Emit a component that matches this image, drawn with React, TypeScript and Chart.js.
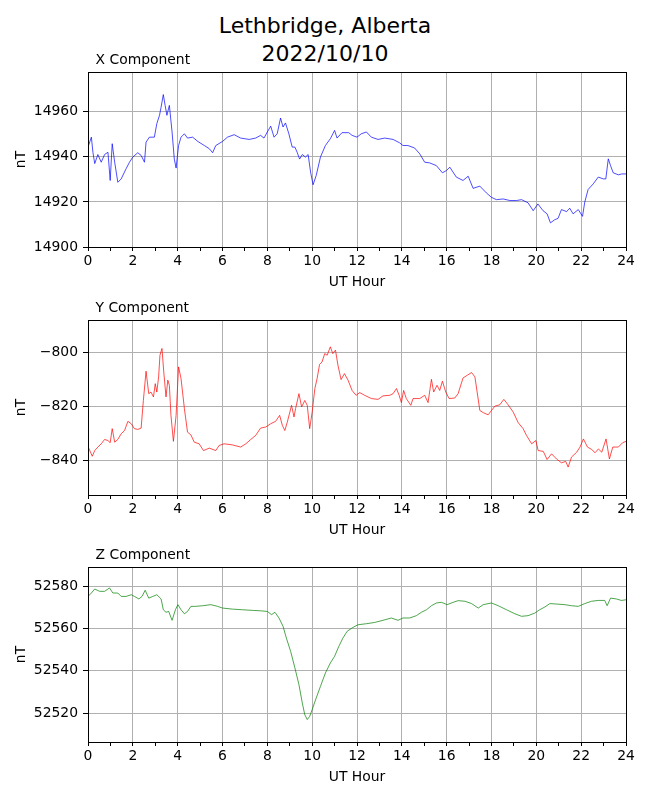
import { useEffect, useRef } from "react";
import { Chart, registerables, type Plugin } from "chart.js";

Chart.register(...registerables);

const FONT = "'DejaVu Sans', sans-serif";
const FONT_SIZE = 13.9;

// hour axis: a tick every hour, a label and grid line every 2 hours
const hourTicks = [
  0, 1, 2, 3, 4, 5, 6, 7, 8, 9, 10, 11, 12, 13, 14, 15, 16, 17, 18, 19, 20, 21,
  22, 23, 24,
];

const xHours = [
  0, 0.15, 0.22, 0.3, 0.44, 0.59, 0.74, 0.89, 0.99, 1.08, 1.19, 1.33, 1.48, 1.7,
  1.85, 2.0, 2.22, 2.37, 2.52, 2.59, 2.74, 2.96, 3.07, 3.19, 3.26, 3.36, 3.44,
  3.52, 3.63, 3.75, 3.85, 3.93, 4.04, 4.15, 4.3, 4.44, 4.67, 4.9, 5.19, 5.41,
  5.56, 5.7, 6.0, 6.22, 6.52, 6.81, 7.19, 7.48, 7.7, 7.85, 8.0, 8.15, 8.3, 8.44,
  8.59, 8.7, 8.81, 8.96, 9.11, 9.23, 9.33, 9.44, 9.56, 9.7, 9.82, 9.93, 10.04,
  10.18, 10.37, 10.59, 10.81, 11.0, 11.11, 11.33, 11.63, 11.78, 12.0, 12.19,
  12.42, 12.64, 12.94, 13.24, 13.61, 13.9, 14.05, 14.27, 14.57, 14.8, 15.02,
  15.24, 15.54, 15.81, 15.99, 16.14, 16.43, 16.73, 16.96, 17.18, 17.48, 17.77,
  18.0, 18.22, 18.52, 18.82, 19.11, 19.34, 19.63, 19.86, 20.07, 20.3, 20.48,
  20.63, 20.82, 20.97, 21.12, 21.35, 21.49, 21.64, 21.87, 22.06, 22.16, 22.31,
  22.54, 22.76, 22.99, 23.1, 23.21, 23.31, 23.43, 23.66, 23.81, 24.0,
];
const xValues = [
  14944.3, 14948.7, 14942, 14937, 14941, 14937.6, 14941, 14942, 14929.5,
  14945.8, 14937.6, 14928.7, 14930.2, 14934.7, 14937.6, 14939.9, 14941.8,
  14940.6, 14937.6, 14946.5, 14948.7, 14948.7, 14954.7, 14958.4, 14962,
  14967.6, 14962.8, 14958.4, 14962.8, 14951, 14939, 14935, 14945, 14948.7,
  14950.2, 14948.3, 14948.7, 14946.8, 14945, 14943.6, 14941.8, 14945, 14946.8,
  14948.7, 14949.8, 14948.3, 14947.7, 14948.3, 14949.5, 14948.3, 14951,
  14953.6, 14948.7, 14950.2, 14957.2, 14953.2, 14955, 14950.2, 14944.3,
  14944.3, 14942, 14939, 14941, 14939.9, 14941, 14933.2, 14927.6, 14931.7,
  14939.9, 14945, 14948, 14951.7, 14948.3, 14950.7, 14950.7, 14949.5, 14948.7,
  14950.2, 14951, 14948.7, 14947.7, 14948.3, 14947.7, 14946.2, 14945, 14945,
  14943.9, 14941.3, 14937.6, 14937.3, 14936.1, 14932.9, 14933.9, 14935.4,
  14931, 14929.5, 14931.4, 14926, 14927, 14924, 14922, 14921, 14921.3, 14920.6,
  14920.6, 14921, 14919.6, 14916.1, 14919.1, 14916.1, 14914.7, 14910.7,
  14912.1, 14912.7, 14916.6, 14915.7, 14917.2, 14914.7, 14916.6, 14913.6,
  14919.9, 14925.5, 14928, 14931, 14930.2, 14930.2, 14939.1, 14936.1, 14932.9,
  14932, 14932.4, 14932.4,
];

const yHours = [
  0, 0.19, 0.3, 0.44, 0.59, 0.74, 0.89, 0.99, 1.08, 1.19, 1.33, 1.48, 1.63,
  1.78, 1.93, 2.07, 2.22, 2.37, 2.47, 2.59, 2.71, 2.81, 2.92, 3.0, 3.07, 3.15,
  3.21, 3.3, 3.38, 3.48, 3.56, 3.63, 3.7, 3.81, 3.93, 4.04, 4.15, 4.3, 4.44,
  4.59, 4.74, 4.96, 5.15, 5.41, 5.7, 5.85, 6.07, 6.44, 6.81, 7.04, 7.26, 7.48,
  7.7, 7.93, 8.15, 8.37, 8.55, 8.67, 8.78, 8.89, 9.08, 9.19, 9.26, 9.41, 9.53,
  9.67, 9.78, 9.89, 10.0, 10.12, 10.22, 10.33, 10.44, 10.56, 10.67, 10.81,
  10.92, 11.04, 11.15, 11.29, 11.44, 11.6, 11.78, 11.96, 12.12, 12.34, 12.64,
  12.94, 13.16, 13.46, 13.61, 13.76, 13.88, 13.98, 14.08, 14.2, 14.4, 14.5,
  14.8, 15.02, 15.17, 15.32, 15.42, 15.57, 15.69, 15.81, 15.96, 16.11, 16.36,
  16.51, 16.73, 16.92, 17.11, 17.26, 17.36, 17.48, 17.63, 17.85, 18.0, 18.15,
  18.37, 18.55, 18.74, 18.97, 19.19, 19.41, 19.56, 19.79, 19.98, 20.08, 20.31,
  20.48, 20.68, 20.9, 21.12, 21.31, 21.42, 21.57, 21.8, 21.95, 22.1, 22.28,
  22.47, 22.62, 22.77, 22.92, 23.11, 23.26, 23.41, 23.66, 23.85, 24.0,
];
const yValues = [
  -834.7, -838.3, -836.2, -834.9, -833.7, -832.1, -832.5, -833.3, -828.1,
  -833.1, -832.1, -830, -828.8, -825.4, -826.3, -828.1, -828.4, -827.9, -817.7,
  -806.9, -815.2, -814.6, -816.4, -811.5, -814.6, -809, -801, -798.5, -807.2,
  -816.4, -810.2, -812.1, -823.2, -832.8, -823.2, -805.3, -809.6, -820.7,
  -829.4, -830.4, -833.1, -833.7, -836.2, -835.3, -836.2, -834.3, -833.7,
  -834.1, -834.9, -833.7, -832.1, -830.6, -827.9, -827.5, -826.3, -825.4,
  -823.2, -826.9, -828.8, -825.7, -819.5, -823.8, -820.7, -815.2, -820.1,
  -817.7, -819.5, -828.1, -822, -813.3, -809.6, -804.4, -803.5, -800.4, -801,
  -797.9, -800.4, -799.1, -804.7, -810, -807.8, -810.2, -814, -815.8, -814.8,
  -815.8, -817, -817.3, -816, -815.8, -815.2, -813.3, -815.8, -818.5, -814,
  -817, -819.5, -817, -817, -815.8, -818.5, -809.9, -814.6, -812.1, -814,
  -810.6, -814.6, -817, -816.8, -815.2, -809.4, -808.4, -807.4, -809, -814.6,
  -821.4, -822.2, -823, -821.4, -819.8, -819.3, -817.3, -819.3, -822, -825.9,
  -828.1, -830.6, -833.7, -832.5, -836.2, -836.5, -839.5, -837.4, -839.3,
  -840.7, -840.2, -842.3, -838.6, -836.8, -834.9, -831.9, -834.9, -835.8, -837,
  -835.6, -836.8, -831.9, -839.3, -834.9, -834.9, -833.3, -832.8,
];

const zHours = [
  0, 0.15, 0.3, 0.52, 0.74, 0.96, 1.11, 1.33, 1.48, 1.7, 1.93, 2.07, 2.27, 2.41,
  2.55, 2.71, 2.89, 3.07, 3.26, 3.36, 3.48, 3.6, 3.75, 3.9, 4.01, 4.15, 4.3,
  4.44, 4.59, 4.81, 5.11, 5.48, 5.78, 6.0, 6.44, 6.89, 7.33, 7.7, 8.0, 8.19,
  8.34, 8.52, 8.7, 8.85, 9.04, 9.23, 9.41, 9.56, 9.67, 9.78, 9.89, 10.0, 10.18,
  10.37, 10.59, 10.81, 11.0, 11.19, 11.37, 11.56, 11.78, 12.04, 12.42, 12.79,
  13.16, 13.53, 13.83, 14.05, 14.35, 14.65, 14.87, 15.1, 15.32, 15.54, 15.77,
  16.02, 16.29, 16.51, 16.82, 17.11, 17.41, 17.63, 18.0, 18.3, 18.67, 19.04,
  19.34, 19.63, 19.93, 20.15, 20.38, 20.6, 20.9, 21.27, 21.57, 21.87, 22.16,
  22.46, 22.76, 23.05, 23.16, 23.31, 23.57, 23.79, 24.0,
];
const zValues = [
  52575.1, 52576.7, 52578.6, 52577.5, 52577.5, 52579.1, 52576.7, 52576.7,
  52575.1, 52575.1, 52575.9, 52575.1, 52573.9, 52575.1, 52578, 52574.3,
  52575.1, 52575.9, 52573.9, 52568.8, 52567.6, 52568, 52563.8, 52568.8,
  52571.2, 52568.8, 52566.9, 52568, 52570.4, 52570.4, 52570.7, 52571.2,
  52570.4, 52569.6, 52569.1, 52568.8, 52568.5, 52568.3, 52568, 52566.5,
  52567.6, 52564.9, 52561, 52555.4, 52549.1, 52541.3, 52533.4, 52524.7,
  52519.2, 52516.9, 52518.4, 52521.6, 52527.1, 52532.6, 52538.9, 52543.6,
  52546.8, 52551.5, 52555.4, 52558.6, 52560.2, 52561.7, 52562.2, 52562.8,
  52563.8, 52564.9, 52563.8, 52564.9, 52564.9, 52566, 52567.6, 52568.8,
  52570.7, 52572, 52572.3, 52571.2, 52572.3, 52573.1, 52572.8, 52571.7,
  52569.6, 52571.2, 52572, 52570.7, 52568.8, 52566.9, 52565.7, 52566, 52567.2,
  52568.8, 52570.1, 52571.7, 52571.5, 52571.2, 52570.7, 52570.4, 52571.7,
  52572.8, 52573.2, 52573.2, 52570.7, 52574.3, 52573.9, 52573.2, 52573.5,
];

const xComponentTicks = [14900, 14920, 14940, 14960];
const yComponentTicks = [-840, -820, -800];
const zComponentTicks = [52520, 52540, 52560, 52580];

const HEAD = 32;
const FOOT = 56;
const PLOT_H = 175;
const WIDTH = 650;

type PanelProps = {
  title: string;
  hours: number[];
  values: number[];
  color: string;
  yMin: number;
  yMax: number;
  yTicks: number[];
  areaTop: number;
};

function formatTick(v: number) {
  return v < 0 ? "\u2212" + Math.abs(v) : String(v);
}

function Panel({ title, hours, values, color, yMin, yMax, yTicks, areaTop }: PanelProps) {
  const canvasRef = useRef<HTMLCanvasElement | null>(null);

  useEffect(() => {
    if (!canvasRef.current) return;

    const frame: Plugin<"line"> = {
      id: "frame",
      afterDraw(chart) {
        const { ctx, chartArea } = chart;
        ctx.save();
        ctx.strokeStyle = "#000";
        ctx.lineWidth = 1;
        ctx.strokeRect(
          Math.round(chartArea.left) + 0.5,
          Math.round(chartArea.top) + 0.5,
          Math.round(chartArea.right - chartArea.left),
          Math.round(chartArea.bottom - chartArea.top),
        );
        ctx.fillStyle = "#000";
        ctx.font = `${FONT_SIZE}px ${FONT}`;
        ctx.textBaseline = "alphabetic";
        ctx.textAlign = "left";
        ctx.fillText(title, chartArea.left + 7.5, chartArea.top - 8.3);
        ctx.restore();
      },
    };

    const chart = new Chart(canvasRef.current, {
      type: "line",
      data: {
        datasets: [
          {
            data: hours.map((h, i) => ({ x: h, y: values[i] })),
            borderColor: color,
            borderWidth: 0.7,
            pointRadius: 0,
            tension: 0,
            fill: false,
          },
        ],
      },
      options: {
        animation: false,
        responsive: true,
        maintainAspectRatio: false,
        layout: { padding: { top: HEAD, right: 24, left: 0, bottom: 0 } },
        plugins: {
          legend: { display: false },
          tooltip: { enabled: false },
        },
        scales: {
          x: {
            type: "linear",
            min: 0,
            max: 24,
            afterBuildTicks: (scale) => {
              scale.ticks = hourTicks.map((v) => ({ value: v }));
            },
            afterFit: (scale) => {
              scale.height = FOOT;
            },
            ticks: {
              autoSkip: false,
              maxRotation: 0,
              color: "#000",
              padding: 2,
              font: { family: FONT, size: FONT_SIZE },
              callback: (v) => (Number(v) % 2 === 0 ? String(v) : ""),
            },
            grid: {
              color: (ctx) =>
                ctx.tick && ctx.tick.value % 2 === 0 ? "#b0b0b0" : "rgba(0,0,0,0)",
              tickColor: "#000",
              tickLength: 4,
              lineWidth: 1,
            },
            border: { display: true, color: "#000", width: 1 },
            title: {
              display: true,
              text: "UT Hour",
              color: "#000",
              font: { family: FONT, size: FONT_SIZE },
              padding: { top: 0, bottom: 12 },
            },
          },
          y: {
            type: "linear",
            min: yMin,
            max: yMax,
            afterBuildTicks: (scale) => {
              scale.ticks = yTicks.map((v) => ({ value: v }));
            },
            afterFit: (scale) => {
              scale.width = 88;
            },
            ticks: {
              color: "#000",
              padding: 5,
              font: { family: FONT, size: FONT_SIZE },
              callback: (v) => formatTick(Number(v)),
            },
            grid: {
              color: "#b0b0b0",
              tickColor: "#000",
              tickLength: 5,
              lineWidth: 1,
            },
            border: { display: true, color: "#000", width: 1 },
            title: {
              display: true,
              text: "nT",
              color: "#000",
              font: { family: FONT, size: FONT_SIZE },
              padding: { top: 13, bottom: 0 },
            },
          },
        },
      },
      plugins: [frame],
    });

    return () => {
      chart.destroy();
    };
  }, [title, hours, values, color, yMin, yMax, yTicks]);

  return (
    <div
      style={{
        position: "absolute",
        left: 0,
        top: areaTop - HEAD,
        width: WIDTH,
        height: HEAD + PLOT_H + FOOT,
      }}
    >
      <canvas ref={canvasRef} />
    </div>
  );
}

export default function App() {
  return (
    <div
      style={{
        position: "absolute",
        left: 0,
        top: 0,
        width: WIDTH,
        height: 800,
        background: "#fff",
        fontFamily: FONT,
      }}
    >
      <div
        style={{
          position: "absolute",
          top: 12,
          left: 0,
          width: WIDTH,
          textAlign: "center",
          fontSize: 22,
          lineHeight: "27.5px",
          color: "#000",
        }}
      >
        Lethbridge, Alberta
        <br />
        2022/10/10
      </div>
      <Panel
        title="X Component"
        hours={xHours}
        values={xValues}
        color="#0000ff"
        yMin={14900}
        yMax={14977.6}
        yTicks={xComponentTicks}
        areaTop={71.7}
      />
      <Panel
        title="Y Component"
        hours={yHours}
        values={yValues}
        color="#ff0000"
        yMin={-852.6}
        yMax={-788}
        yTicks={yComponentTicks}
        areaTop={319.5}
      />
      <Panel
        title="Z Component"
        hours={zHours}
        values={zValues}
        color="#008000"
        yMin={52506.3}
        yMax={52589}
        yTicks={zComponentTicks}
        areaTop={567.3}
      />
    </div>
  );
}
